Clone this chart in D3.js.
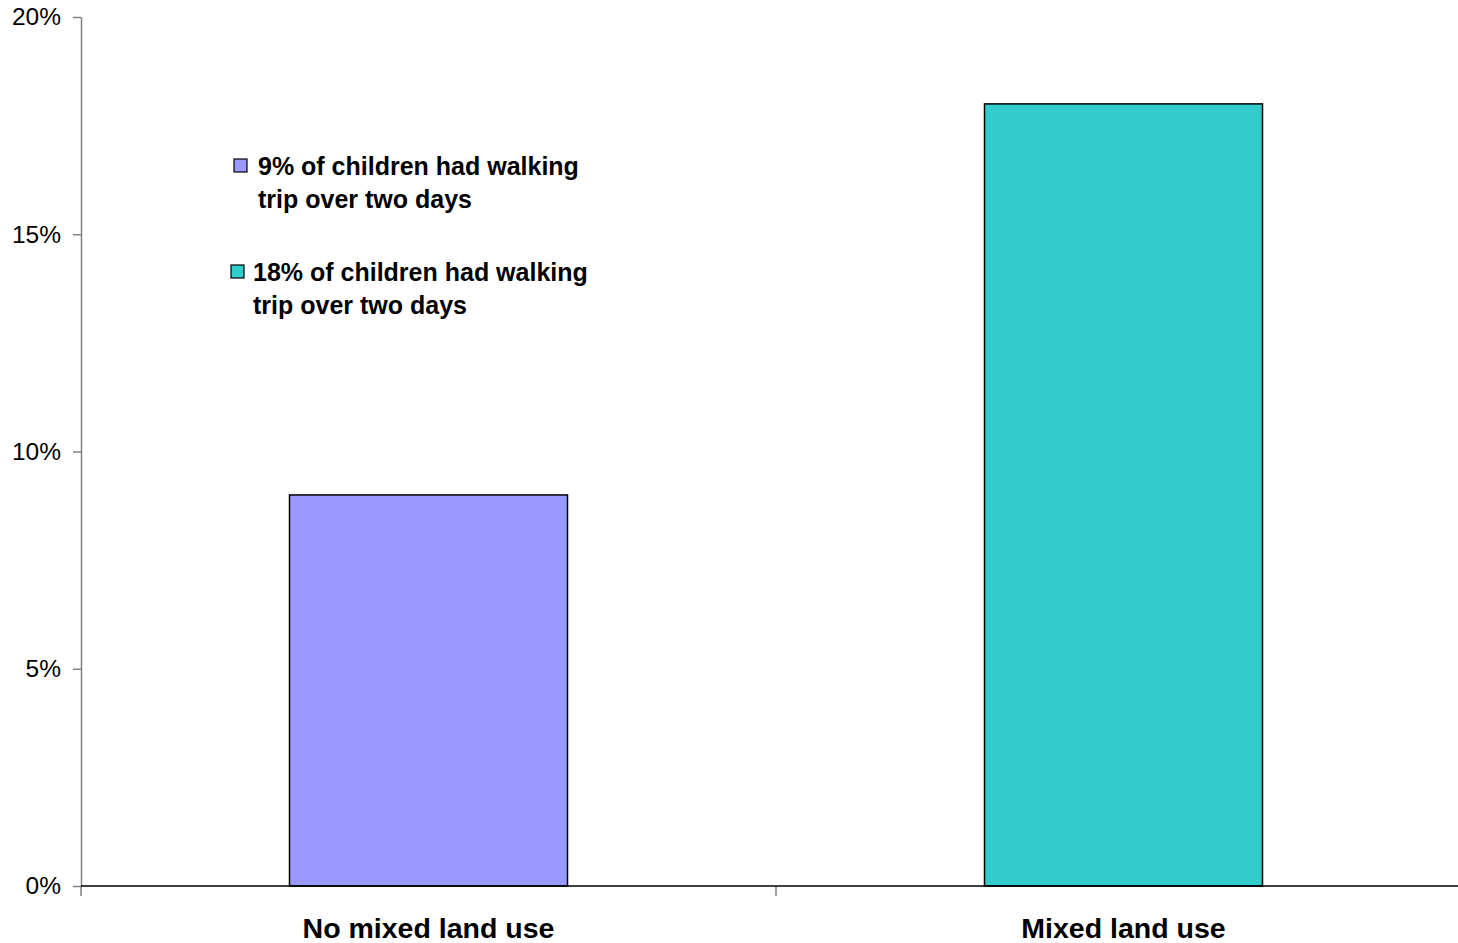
<!DOCTYPE html>
<html><head><meta charset="utf-8">
<script src="https://cdn.jsdelivr.net/npm/d3@7"></script>
<style>body{margin:0;background:#fff;} svg{display:block;font-family:Arial,"Liberation Sans",sans-serif;}</style>
</head><body>
<svg id="c" width="1458" height="943"></svg>
<script>
const categories = ["No mixed land use", "Mixed land use"];
const values = [0.09, 0.18];
const colors = ["#9999FF", "#33CCCC"];
const yTicks = [0, 0.05, 0.10, 0.15, 0.20];
const legendLines = [
  ["9% of children had walking", "trip over two days"],
  ["18% of children had walking", "trip over two days"]
];

(function () {
const svg = d3.select("#c");
const mLeft = 81, mRight = 1471, mTop = 17, mBottom = 886;
const x = d3.scaleBand().domain(categories).range([mLeft, mRight]).paddingInner(0).paddingOuter(0);
const y = d3.scaleLinear().domain([0, 0.2]).range([mBottom, mTop]);

// bars
const bw = x.bandwidth() * 0.4;
svg.selectAll("rect.bar").data(values).join("rect")
  .attr("class", "bar")
  .attr("x", (d, i) => x(categories[i]) + x.bandwidth() / 2 - bw / 2)
  .attr("y", d => y(d))
  .attr("width", bw)
  .attr("height", d => y(0) - y(d))
  .attr("fill", (d, i) => colors[i])
  .attr("stroke", "#000").attr("stroke-width", 1.5);

// y axis
const yAxis = svg.append("g").attr("transform", `translate(${mLeft},0)`)
  .call(d3.axisLeft(y).tickValues(yTicks).tickFormat(d3.format(".0%")).tickSizeOuter(0).tickSizeInner(8).tickPadding(12));
yAxis.select(".domain").attr("stroke", "#808080").attr("stroke-width", 1.5);
yAxis.selectAll(".tick line").attr("stroke", "#808080").attr("stroke-width", 1.5);
yAxis.selectAll(".tick text").attr("font-size", 24.5).attr("fill", "#000").attr("font-family", "Arial, 'Liberation Sans', sans-serif");

// x axis category separator ticks
const bounds = [mLeft, x(categories[1]), mRight];
svg.selectAll("line.xt").data(bounds).join("line")
  .attr("class", "xt")
  .attr("x1", d => d).attr("x2", d => d)
  .attr("y1", mBottom).attr("y2", mBottom + 10)
  .attr("stroke", "#808080").attr("stroke-width", 1.5);
svg.append("line").attr("x1", mLeft).attr("x2", mRight).attr("y1", mBottom).attr("y2", mBottom)
  .attr("stroke", "#000").attr("stroke-width", 1.5);

// category labels
svg.selectAll("text.cat").data(categories).join("text")
  .attr("class", "cat")
  .attr("x", d => x(d) + x.bandwidth() / 2)
  .attr("y", 938)
  .attr("text-anchor", "middle")
  .attr("font-size", 28.5).attr("font-weight", "bold")
  .text(d => d);

// legend
const legPos = [{sx: 234, sy: 159, tx: 258, ty: 175}, {sx: 231, sy: 265, tx: 253, ty: 281}];
legendLines.forEach((lines, i) => {
  const p = legPos[i];
  svg.append("rect").attr("x", p.sx).attr("y", p.sy).attr("width", 13).attr("height", 13)
    .attr("fill", colors[i]).attr("stroke", "#000").attr("stroke-width", 1.2);
  lines.forEach((t, j) => {
    svg.append("text").attr("x", p.tx).attr("y", p.ty + j * 33)
      .attr("font-size", 25).attr("font-weight", "bold").text(t);
  });
});
})();
</script>
</body></html>
